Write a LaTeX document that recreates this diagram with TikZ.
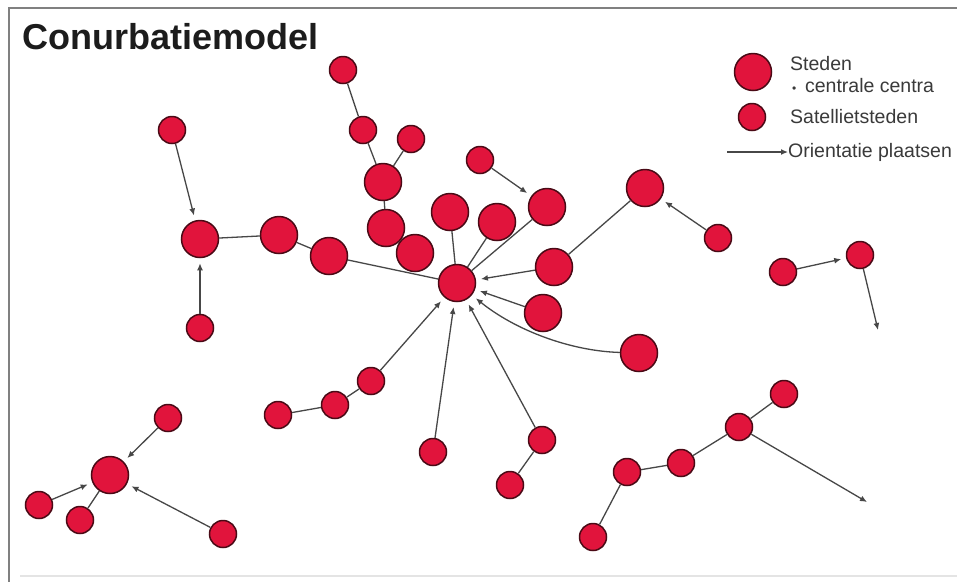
\documentclass[tikz,border=0pt]{standalone}
\usepackage{fontspec}
\setmainfont{Liberation Sans}
\usetikzlibrary{arrows.meta}
\definecolor{nodefill}{HTML}{E1143C}
\definecolor{nodeborder}{HTML}{4A0A16}
\definecolor{linecol}{HTML}{474747}
\definecolor{framecol}{HTML}{808080}
\definecolor{framelight}{HTML}{E4E4E4}
\definecolor{legtext}{HTML}{3A3A3A}
\definecolor{titlecol}{HTML}{1C1C1C}
\begin{document}
\begin{tikzpicture}[x=1pt,y=-1pt,
  bigcity/.style={circle, draw=nodeborder, fill=nodefill, line width=1.5pt, minimum size=37pt, inner sep=0pt},
  smallcity/.style={circle, draw=nodeborder, fill=nodefill, line width=1.5pt, minimum size=27pt, inner sep=0pt},
  conn/.style={draw=linecol, line width=1.3pt},
  arr/.style={conn, -{Latex[length=7pt,width=6pt]}, shorten >=5pt},
  freearr/.style={conn, -{Latex[length=7pt,width=6pt]}},
  legendtext/.style={anchor=west, inner sep=0pt, text=legtext, font=\fontsize{19.5}{22}\selectfont}
]
\useasboundingbox (0,0) rectangle (957,582);
\fill[white] (0,0) rectangle (957,582);
% frame
\draw[framecol, line width=2pt] (8,8) -- (957,8);
\draw[framecol, line width=2pt] (9,8) -- (9,582);
\draw[framelight, line width=1.5pt] (20,576) -- (957,576);

% title
\node[anchor=base west, inner sep=0pt, text=titlecol, font=\fontsize{36}{40}\selectfont\bfseries] (title) at (22,49) {Conurbatiemodel};

% big cities
\node[bigcity] (L1) at (200,239) {};
\node[bigcity] (L2) at (279,235) {};
\node[bigcity] (L3) at (329,256) {};
\node[bigcity] (C)  at (457,283) {};
\node[bigcity] (U1) at (383,182) {};
\node[bigcity] (U2) at (386,228) {};
\node[bigcity] (U3) at (415,253) {};
\node[bigcity] (U4) at (450,212) {};
\node[bigcity] (U5) at (497,222) {};
\node[bigcity] (U6) at (547,207) {};
\node[bigcity] (R1) at (554,267) {};
\node[bigcity] (R2) at (543,313) {};
\node[bigcity] (R3) at (639,353) {};
\node[bigcity] (R4) at (645,188) {};
\node[bigcity] (W)  at (110,475) {};

% satellite cities
\node[smallcity] (stop)  at (343,70) {};
\node[smallcity] (sa)    at (363,130) {};
\node[smallcity] (sb)    at (411,139) {};
\node[smallcity] (sc)    at (480,160) {};
\node[smallcity] (sleft) at (172,130) {};
\node[smallcity] (slb)   at (200,328) {};
\node[smallcity] (sr1)   at (718,238) {};
\node[smallcity] (sr2)   at (783,272) {};
\node[smallcity] (sr3)   at (860,255) {};
\node[smallcity] (w1)    at (168,418) {};
\node[smallcity] (w2)    at (39,505) {};
\node[smallcity] (w3)    at (80,520) {};
\node[smallcity] (w4)    at (223,534) {};
\node[smallcity] (m1)    at (278,415) {};
\node[smallcity] (m2)    at (335,405) {};
\node[smallcity] (m3)    at (371,381) {};
\node[smallcity] (d1)    at (433,452) {};
\node[smallcity] (d2)    at (542,440) {};
\node[smallcity] (d3)    at (510,485) {};
\node[smallcity] (e1)    at (593,537) {};
\node[smallcity] (e2)    at (627,472) {};
\node[smallcity] (e3)    at (681,463) {};
\node[smallcity] (e4)    at (739,427) {};
\node[smallcity] (e5)    at (784,394) {};

\coordinate (f1) at (878,330);
\coordinate (f2) at (867,502);

% plain links
\draw[conn] (stop) -- (sa);
\draw[conn] (sa) -- (U1);
\draw[conn] (sb) -- (U1);
\draw[conn] (U1) -- (U2);
\draw[conn] (U2) -- (U3);
\draw[conn] (U4) -- (C);
\draw[conn] (U5) -- (C);
\draw[conn] (U6) -- (C);
\draw[conn] (L1) -- (L2);
\draw[conn] (L2) -- (L3);
\draw[conn] (L3) -- (C);
\draw[conn] (R4) -- (R1);
\draw[conn] (w3) -- (W);
\draw[conn] (m1) -- (m2);
\draw[conn] (m2) -- (m3);
\draw[conn] (d3) -- (d2);
\draw[conn] (e1) -- (e2);
\draw[conn] (e2) -- (e3);
\draw[conn] (e3) -- (e4);
\draw[conn] (e4) -- (e5);

% orientation arrows
\draw[arr] (sleft) -- (L1);
\draw[arr] (slb) -- (L1);
\draw[arr] (sc) -- (U6);
\draw[arr] (sr1) -- (R4);
\draw[arr] (sr2) -- (sr3);
\draw[freearr] (sr3) -- (f1);
\draw[arr] (R1) -- (C);
\draw[arr] (R2) -- (C);
\draw[arr] (R3) .. controls (570,351) and (515,330) .. (C);
\draw[arr] (d2) -- (C);
\draw[arr] (d1) -- (C);
\draw[arr] (m3) -- (C);
\draw[arr] (w1) -- (W);
\draw[arr] (w2) -- (W);
\draw[arr] (w4) -- (W);
\draw[freearr] (e4) -- (f2);

% legend
\node[bigcity] (legbig) at (753,72) {};
\node[smallcity] (legsmall) at (752,117) {};
\node[legendtext] (legsteden) at (790,64) {Steden};
\node[legendtext] (legcentra) at (792,86) {{\fontsize{12}{12}\selectfont •}\, centrale centra};
\node[legendtext] (legsat) at (790,117) {Satellietsteden};
\node[legendtext] (legorient) at (788,152) {Orientatie plaatsen};
\coordinate (legarrstart) at (727,152);
\draw[freearr] (legarrstart) -- (legorient.west);
\end{tikzpicture}
\end{document}
